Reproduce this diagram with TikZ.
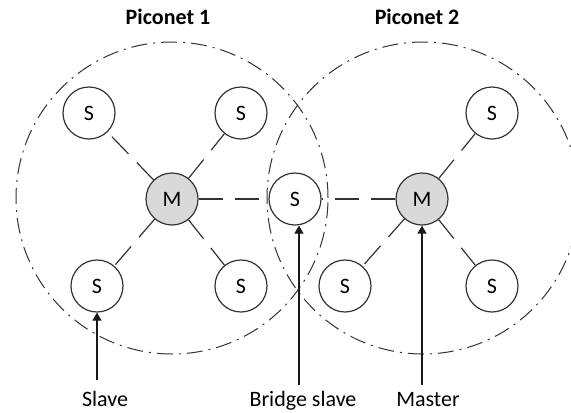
\documentclass[tikz,border=0pt]{standalone}
\usepackage{fontspec}
\setmainfont{Carlito}
\usetikzlibrary{arrows.meta}
\tikzset{
    piconet/.style={draw=black!80, line width=0.5pt, dash pattern=on 8pt off 3pt on 1pt off 3pt}
}

\begin{document}
\begin{tikzpicture}[
        x=0.5pt, y=-0.5pt,
        every node/.style={font=\fontsize{11}{13}\selectfont},
        slave/.style={circle, draw=black!80, line width=0.6pt, fill=white, minimum size=26pt, inner sep=0pt},
        master/.style={slave, fill=gray!30},
        link/.style={draw=black!80, line width=0.6pt, dash pattern=on 12pt off 6pt},
        pointer/.style={draw=black!90, line width=0.6pt, -{Triangle[length=4pt,width=4.5pt]}},
        title/.style={font=\fontsize{11}{13}\selectfont\bfseries, anchor=base},
        caption/.style={anchor=base},
    ]

    \path[use as bounding box, clip] (0,0) rectangle (571,412);

    \draw[piconet] (172,198) circle [radius=78pt];
    \draw[piconet] (423,198) circle [radius=78pt];

    \node[title]      (T1)  at (168,25)  {Piconet 1};
    \node[title]      (T2)  at (417,25)  {Piconet 2};

    \node[master]     (M1)  at (172,199) {M};
    \node[master]     (M2)  at (422,199) {M};
    \node[slave]      (B)   at (295,199) {S};

    \node[slave]      (S11) at (89,113)  {S};
    \node[slave]      (S12) at (241,113) {S};
    \node[slave]      (S13) at (97,286)  {S};
    \node[slave]      (S14) at (241,286) {S};

    \node[slave]      (S21) at (492,113) {S};
    \node[slave]      (S22) at (345,286) {S};
    \node[slave]      (S23) at (492,286) {S};

    \draw[link] (M1) -- (S11);
    \draw[link] (M1) -- (S12);
    \draw[link] (M1) -- (S13);
    \draw[link] (M1) -- (S14);
    \draw[link] (M1) -- (B);

    \draw[link] (M2) -- (B);
    \draw[link] (M2) -- (S21);
    \draw[link] (M2) -- (S22);
    \draw[link] (M2) -- (S23);

    \node[caption]    (LS)  at (105,406.7) {Slave};
    \node[caption]    (LB)  at (303,406.7) {Bridge slave};
    \node[caption]    (LM)  at (428,406.7) {Master};

    \coordinate (PS) at (97,380);
    \coordinate (PB) at (299,385);
    \coordinate (PM) at (422,385);

    \draw[pointer] (PS) -- (S13);
    \draw[pointer] (PB) -- (PB |- B.south);
    \draw[pointer] (PM) -- (M2);

\end{tikzpicture}
\end{document}
